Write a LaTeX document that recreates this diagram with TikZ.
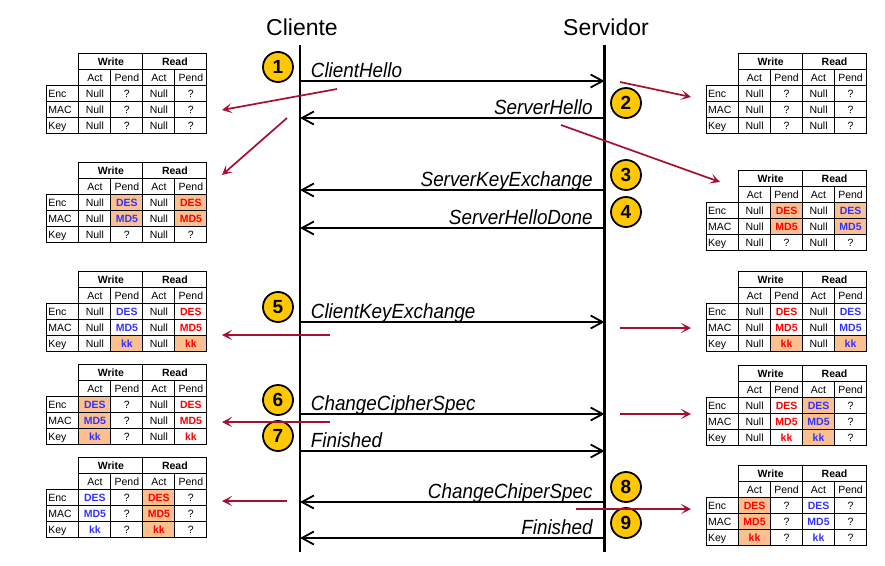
\documentclass[tikz,border=0pt]{standalone}
\usepackage{fontspec}
\setmainfont{Liberation Sans}
\newfontfamily\condensada[FakeStretch=0.92]{Liberation Sans}
\usetikzlibrary{arrows.meta}
\definecolor{oro}{RGB}{255,200,0}
\definecolor{granate}{RGB}{165,15,50}
\definecolor{azulc}{RGB}{51,51,255}
\definecolor{rojoc}{RGB}{255,0,0}
\definecolor{melocoton}{RGB}{250,192,144}
\newcommand{\chico}{\fontsize{10.5}{12}\selectfont}
% tabla de estados: nombre, x, y, celdas (estilo/texto)
\newcommand{\tabla}[4]{%
  \begin{scope}[shift={(#2,#3)}]
    \node[cab] (#1-w) at (0,0) {Write};
    \node[cab] (#1-r) at (64,0) {Read};
    \foreach \txt [count=\k from 0] in {Act,Pend,Act,Pend}
      \node[celda] (#1-h\k) at (32*\k,16) {\txt};
    \foreach \txt [count=\k from 0] in {Enc,MAC,Key}
      \node[celda] (#1-e\k) at (-32,32+16*\k) {\makebox[29pt][l]{\txt}};
    \foreach \est/\txt [count=\k from 0] in {#4}{
      \pgfmathtruncatemacro{\col}{mod(\k,4)}
      \pgfmathtruncatemacro{\fil}{\k/4}
      \node[celda,\est] (#1-\fil\col) at (32*\col,32+16*\fil) {\txt};}
  \end{scope}}

\begin{document}
\begin{tikzpicture}[x=1pt,y=-1pt,
   celda/.style={draw, line width=1.1pt, anchor=north west, minimum width=32pt,
     minimum height=16pt, inner sep=0pt, text height=7.6pt, text depth=0pt, font=\chico},
   cab/.style={celda, minimum width=64pt, font=\bfseries\chico},
   pl/.style={},
   az/.style={text=azulc, font=\bfseries\chico},
   ro/.style={text=rojoc, font=\bfseries\chico},
   azf/.style={az, fill=melocoton},
   rof/.style={ro, fill=melocoton},
   titulo/.style={anchor=base, font=\fontsize{23}{27}\selectfont},
   vida/.style={line width=2.6pt},
   msj/.style={line width=1.8pt, -{Straight Barb[length=12pt,width=13pt]}},
   etq/.style={pos=0, yshift=3.5pt, inner sep=0pt,
     font=\condensada\itshape\fontsize{20.5}{24}\selectfont},
   izq/.style={etq, anchor=base west, xshift=10pt},
   der/.style={etq, anchor=base east, xshift=-11pt},
   paso/.style={circle, draw, line width=1.8pt, fill=oro, minimum size=30pt,
     inner sep=0pt, font=\bfseries\fontsize{19}{20}\selectfont},
   roja/.style={granate, line width=1.7pt, -{Stealth[length=10pt,width=10pt,inset=5pt]}}]
   \useasboundingbox (0,0) rectangle (885,565);

   % cliente y servidor
   \node[titulo] (cli) at (302,35) {Cliente};
   \node[titulo] (srv) at (606,35) {Servidor};
   \coordinate (ct) at (300,45);   \coordinate (cb) at (300,552);
   \coordinate (st) at (604.5,45); \coordinate (sb) at (604.5,552);
   \draw[vida] (ct) -- (cb);
   \draw[vida] (st) -- (sb);

   % mensajes
   \foreach \n/\y in {1/81,2/118,3/190,4/228,5/322,6/414,7/451,8/502,9/538}{
     \coordinate (c\n) at (300,\y);
     \coordinate (s\n) at (604.5,\y);}
   \draw[msj] (c1) -- node[izq] {ClientHello} (s1);
   \draw[msj] (s2) -- node[der] {ServerHello} (c2);
   \draw[msj] (s3) -- node[der] {ServerKeyExchange} (c3);
   \draw[msj] (s4) -- node[der] {ServerHelloDone} (c4);
   \draw[msj] (c5) -- node[izq] {ClientKeyExchange} (s5);
   \draw[msj] (c6) -- node[izq] {ChangeCipherSpec} (s6);
   \draw[msj] (c7) -- node[izq] {Finished} (s7);
   \draw[msj] (s8) -- node[der] {ChangeChiperSpec} (c8);
   \draw[msj] (s9) -- node[der] {Finished} (c9);

   % pasos
   \foreach \n/\x/\y in {1/278/67,2/626/103,3/626/175,4/626/212,5/278/307,
                         6/278/400,7/278/436,8/626/487,9/626/523}
     \node[paso] (n\n) at (\x,\y) {\n};

   % tablas del cliente
   \tabla{L1}{78.3}{53}{pl/Null,pl/?,pl/Null,pl/?, pl/Null,pl/?,pl/Null,pl/?,
                      pl/Null,pl/?,pl/Null,pl/?}
   \tabla{L2}{78.3}{162}{pl/Null,azf/DES,pl/Null,rof/DES, pl/Null,azf/MD5,pl/Null,rof/MD5,
                       pl/Null,pl/?,pl/Null,pl/?}
   \tabla{L3}{78.3}{271}{pl/Null,az/DES,pl/Null,ro/DES, pl/Null,az/MD5,pl/Null,ro/MD5,
                       pl/Null,azf/kk,pl/Null,rof/kk}
   \tabla{L4}{78.3}{364}{azf/DES,pl/?,pl/Null,ro/DES, azf/MD5,pl/?,pl/Null,ro/MD5,
                       azf/kk,pl/?,pl/Null,ro/kk}
   \tabla{L5}{78.3}{457}{az/DES,pl/?,rof/DES,pl/?, az/MD5,pl/?,rof/MD5,pl/?,
                       az/kk,pl/?,rof/kk,pl/?}

   % tablas del servidor
   \tabla{R1}{738}{53}{pl/Null,pl/?,pl/Null,pl/?, pl/Null,pl/?,pl/Null,pl/?,
                     pl/Null,pl/?,pl/Null,pl/?}
   \tabla{R2}{738}{170}{pl/Null,rof/DES,pl/Null,azf/DES, pl/Null,rof/MD5,pl/Null,azf/MD5,
                      pl/Null,pl/?,pl/Null,pl/?}
   \tabla{R3}{738}{271}{pl/Null,ro/DES,pl/Null,az/DES, pl/Null,ro/MD5,pl/Null,az/MD5,
                      pl/Null,rof/kk,pl/Null,azf/kk}
   \tabla{R4}{738}{365}{pl/Null,ro/DES,azf/DES,pl/?, pl/Null,ro/MD5,azf/MD5,pl/?,
                      pl/Null,ro/kk,azf/kk,pl/?}
   \tabla{R5}{738}{465}{rof/DES,pl/?,az/DES,pl/?, rof/MD5,pl/?,az/MD5,pl/?,
                      rof/kk,pl/?,az/kk,pl/?}

   % flechas rojas
   \foreach \n/\xa/\ya/\xb/\yb in {1/337/89/222/110, 2/287/118/222/175,
       3/620/82/691/97, 4/561/125/720/182, 5/330/335/222/335, 6/620/328/691/328,
       7/330/422/222/422, 8/620/414/691/414, 9/287/501/222/501, 10/576/509/691/509}{
     \coordinate (r\n a) at (\xa,\ya);
     \coordinate (r\n b) at (\xb,\yb);
     \draw[roja] (r\n a) -- (r\n b);}
\end{tikzpicture}
\end{document}
